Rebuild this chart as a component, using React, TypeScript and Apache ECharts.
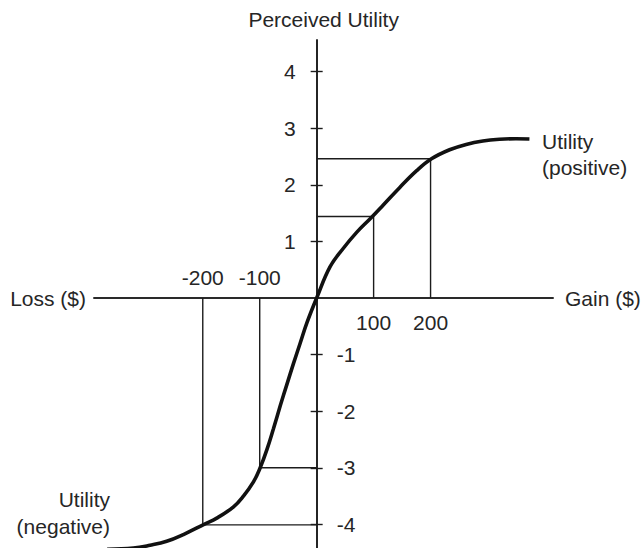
import { useEffect, useRef } from "react";
import * as echarts from "echarts";

// Curve samples (gain / loss in $, perceived utility)
const gainX = [0, 23.4, 46.9, 70.2, 94.8, 117, 146, 175.6, 201.6, 233.4, 262.5, 291.8, 321, 350, 373.6];
const gainU = [0, 0.55, 0.88, 1.16, 1.41, 1.645, 1.955, 2.25, 2.46, 2.62, 2.715, 2.775, 2.805, 2.815, 2.81];
const lossX = [-368, -322, -292.7, -263.4, -234, -197.7, -175.4, -146, -128.6, -111, -99.2, -87.4, -75.9, -64.1, -52.4, -40.8, -29, -17.2];
const lossU = [-4.44, -4.42, -4.37, -4.3, -4.18, -4.0, -3.89, -3.69, -3.5, -3.25, -3.0, -2.68, -2.31, -1.91, -1.53, -1.16, -0.8, -0.44];

// Reference (projection) lines: gain/loss and the utility
const refX = [-200, -100, 100, 200];
const refU = [-4.01, -3.0, 1.44, 2.46];

// Tick labels
const yTicks = [-4, -3, -2, -1, 1, 2, 3, 4];
const yLabelsUp = [1, 2, 3, 4];
const yLabelsDown = [-4, -3, -2, -1];
const xLabelsGain = [100, 200];
const xLabelsLoss = [-200, -100];

const X_MIN = -391;
const X_MAX = 415;
const Y_MIN = -4.63;
const Y_MAX = 4.56;

const GRID_LEFT = 94;
const GRID_RIGHT = 91;
const GRID_TOP = 40;
const GRID_BOTTOM = 0;
const W = 644;
const H = 560;

const FONT = '"Liberation Sans", Arial, Helvetica, sans-serif';
const FONT_SIZE = 21;
const TEXT = "#262626";
const LINE = "#1c1c1c";

export default function App() {
  const ref = useRef<HTMLDivElement>(null);

  useEffect(() => {
    if (!ref.current) return;
    const chart = echarts.init(ref.current, null, { renderer: "svg" });

    const gridW = W - GRID_LEFT - GRID_RIGHT;
    const gridH = H - GRID_TOP - GRID_BOTTOM;
    // distance from grid edges to the zero lines (axes cross at the origin)
    const xZeroFromLeft = ((0 - X_MIN) / (X_MAX - X_MIN)) * gridW;
    const yZeroFromBottom = ((0 - Y_MIN) / (Y_MAX - Y_MIN)) * gridH;

    const curve: number[][] = [];
    lossX.forEach((x, i) => curve.push([x, lossU[i]]));
    gainX.forEach((x, i) => curve.push([x, gainU[i]]));

    const refSeries = refX.map((x, i) => ({
      type: "line" as const,
      data: [
        [x, 0],
        [x, refU[i]],
        [0, refU[i]],
      ],
      symbol: "none",
      silent: true,
      z: 3,
      lineStyle: { color: LINE, width: 1.4 },
    }));

    const labelStyle = { fontSize: FONT_SIZE, fontFamily: FONT, color: TEXT };
    const axisLineStyle = { color: LINE, width: 1.6 };

    chart.setOption({
      animation: false,
      grid: {
        left: GRID_LEFT,
        right: GRID_RIGHT,
        top: GRID_TOP,
        bottom: GRID_BOTTOM,
        outerBoundsMode: "none",
        containLabel: false,
      },
      xAxis: [
        {
          type: "value",
          min: X_MIN,
          max: X_MAX,
          position: "bottom",
          offset: -yZeroFromBottom,
          axisLine: { show: true, onZero: false, lineStyle: axisLineStyle },
          axisTick: { show: false },
          splitLine: { show: false },
          axisLabel: {
            ...labelStyle,
            customValues: xLabelsGain,
            margin: 14,
            formatter: (v: number) => (xLabelsGain.includes(v) ? String(v) : ""),
          },
          name: "Gain ($)",
          nameLocation: "end",
          nameGap: 12,
          nameTextStyle: { ...labelStyle, verticalAlign: "middle" },
        },
        {
          type: "value",
          min: X_MIN,
          max: X_MAX,
          position: "bottom",
          offset: -yZeroFromBottom,
          axisLine: { show: true, onZero: false, lineStyle: axisLineStyle },
          axisTick: { show: false },
          splitLine: { show: false },
          axisLabel: {
            ...labelStyle,
            inside: true,
            customValues: xLabelsLoss,
            margin: 10,
            formatter: (v: number) => (xLabelsLoss.includes(v) ? String(v) : ""),
          },
          name: "Loss ($)",
          nameLocation: "start",
          nameGap: 8,
          nameTextStyle: { ...labelStyle, verticalAlign: "middle" },
        },
      ],
      yAxis: [
        {
          type: "value",
          min: Y_MIN,
          max: Y_MAX,
          position: "left",
          offset: -xZeroFromLeft,
          axisLine: { show: true, onZero: false, lineStyle: axisLineStyle },
          axisTick: {
            show: true,
            inside: false,
            length: 6,
            customValues: yTicks,
            lineStyle: { color: LINE, width: 1.4 },
          },
          splitLine: { show: false },
          axisLabel: {
            ...labelStyle,
            customValues: yLabelsUp,
            margin: 21,
            formatter: (v: number) => (yLabelsUp.includes(v) ? String(v) : ""),
          },
          name: "Perceived Utility",
          nameLocation: "end",
          nameGap: 10,
          nameTextStyle: { ...labelStyle, align: "center", padding: [0, 0, 0, 14] },
        },
        {
          type: "value",
          min: Y_MIN,
          max: Y_MAX,
          position: "left",
          offset: -xZeroFromLeft,
          axisLine: { show: true, onZero: false, lineStyle: axisLineStyle },
          axisTick: {
            show: true,
            inside: true,
            length: 6,
            customValues: yTicks,
            lineStyle: { color: LINE, width: 1.4 },
          },
          splitLine: { show: false },
          axisLabel: {
            ...labelStyle,
            inside: true,
            customValues: yLabelsDown,
            margin: 20,
            formatter: (v: number) => (yLabelsDown.includes(v) ? String(v) : ""),
          },
        },
      ],
      graphic: [
        {
          type: "text",
          x: 542,
          y: 154,
          style: {
            text: "Utility\n(positive)",
            font: `${FONT_SIZE}px ${FONT}`,
            fill: TEXT,
            align: "left",
            verticalAlign: "middle",
            lineHeight: 26,
          },
        },
        {
          type: "text",
          x: 110,
          y: 513,
          style: {
            text: "Utility\n(negative)",
            font: `${FONT_SIZE}px ${FONT}`,
            fill: TEXT,
            align: "right",
            verticalAlign: "middle",
            lineHeight: 27,
          },
        },
      ],
      series: [
        ...refSeries,
        {
          type: "line",
          data: curve,
          symbol: "none",
          smooth: 0.4,
          z: 5,
          lineStyle: { color: "#111", width: 3.6 },
        },
      ],
    });

    return () => chart.dispose();
  }, []);

  return (
    <div
      ref={ref}
      style={{ position: "fixed", left: 0, top: 0, width: W, height: H, background: "#fff" }}
    />
  );
}
